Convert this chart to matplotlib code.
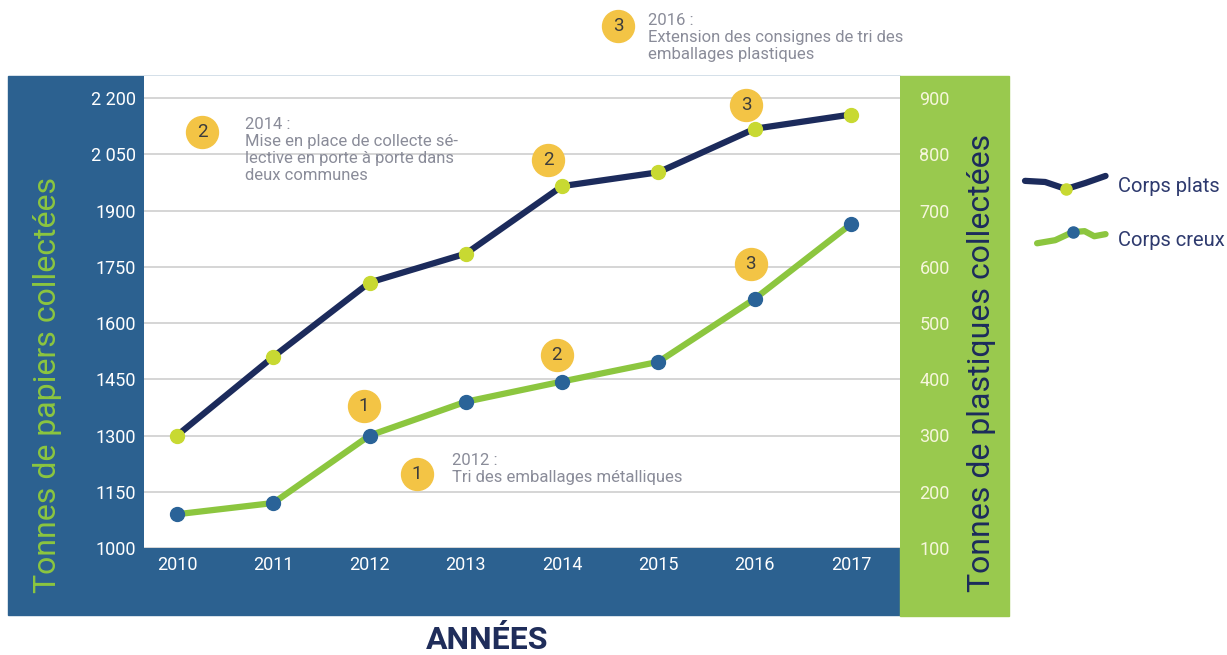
import numpy as np
import matplotlib
matplotlib.use('Agg')
import matplotlib.pyplot as plt
from matplotlib.patches import Rectangle
from matplotlib.lines import Line2D
from matplotlib.legend_handler import HandlerBase
from matplotlib.transforms import offset_copy

plt.rcParams['font.family'] = ['Roboto', 'DejaVu Sans']

# ── Data ─────────────────────────────────────────────────────────────────────
years = [2010, 2011, 2012, 2013, 2014, 2015, 2016, 2017]
corps_plats = [1300, 1510, 1708, 1785, 1965, 2002, 2118, 2156]   # left axis (papiers)
corps_creux = [160, 180, 300, 360, 396, 431, 543, 676]           # right axis (plastiques)

left_ticks = [1000, 1150, 1300, 1450, 1600, 1750, 1900, 2050, 2200]
left_labels = ['1000', '1150', '1300', '1450', '1600', '1750', '1900', '2 050', '2 200']
right_ticks = [100, 200, 300, 400, 500, 600, 700, 800, 900]

# event markers: (series, year index, number)
events = [('plats', 4, '2'), ('plats', 6, '3'),
          ('creux', 2, '1'), ('creux', 4, '2'), ('creux', 6, '3')]

notes = [('2', 202, 132, 245, 117, '2014 :\nMise en place de collecte sé-\nlective en porte à porte dans\ndeux communes'),
         ('3', 618, 26, 648, 13, '2016 :\nExtension des consignes de tri des\nemballages plastiques'),
         ('1', 417, 474, 452, 453, '2012 :\nTri des emballages métalliques')]

# ── Colours ──────────────────────────────────────────────────────────────────
BLUE_PANEL = '#2c6190'
GREEN_PANEL = '#99c94e'
NAVY = '#1c2b5c'
GREEN = '#8cc63f'
LIME = '#c8d932'
DOT_BLUE = '#2a6398'
GOLD = '#f3c445'
NOTE_GREY = '#8a8c99'

W, H = 1227, 655
fx = lambda px: px / W
fy = lambda py: 1 - py / H

fig = plt.figure(figsize=(W / 100, H / 100), dpi=100)

# background panels
fig.patches.append(Rectangle((fx(8), fy(615)), fx(900 - 8), (615 - 76) / H,
                             transform=fig.transFigure, color=BLUE_PANEL, zorder=-5))
fig.patches.append(Rectangle((fx(900), fy(616)), fx(1009 - 900), (616 - 76) / H,
                             transform=fig.transFigure, color=GREEN_PANEL, zorder=-5))

ax = fig.add_axes([fx(144), fy(548), (900 - 144) / W, (548 - 76) / H])
ax.set_facecolor('white')
ax.set_xlim(2010 - 33 / 96.3, 2017 + 49 / 96.3)
ax.set_ylim(1000, 2200 + 22 / 0.375)
ax.set_yticks(left_ticks)
ax.set_yticklabels(left_labels)
ax.set_xticks(years)
ax.tick_params(axis='y', length=0, pad=6, labelsize=13, labelcolor='white')
ax.tick_params(axis='x', length=0, pad=6, labelsize=13, labelcolor='white')
ax.yaxis.grid(True, color='#d2d2d2', lw=1.3)
ax.set_axisbelow(True)
for s in ax.spines.values():
    s.set_visible(False)

ax2 = ax.twinx()
ax2.set_ylim(100, 100 + 472 * 800 / 450)
ax2.set_yticks(right_ticks)
ax2.tick_params(axis='y', length=0, pad=14, labelsize=13, labelcolor='#f6f6dc')
for s in ax2.spines.values():
    s.set_visible(False)

l1, = ax.plot(years, corps_plats, color=NAVY, lw=4.5, marker='o', ms=10,
              mfc=LIME, mec=LIME, zorder=3, label='Corps plats')
l2, = ax2.plot(years, corps_creux, color=GREEN, lw=4.5, marker='o', ms=10,
               mfc=DOT_BLUE, mec=DOT_BLUE, zorder=3, label='Corps creux')

# numbered circles above points
offsets = {('plats', 4): (-10, 19), ('plats', 6): (-6, 17),
           ('creux', 2): (-4, 21), ('creux', 4): (-4, 19), ('creux', 6): (-3, 25)}
for series, i, num in events:
    a = ax if series == 'plats' else ax2
    vals = corps_plats if series == 'plats' else corps_creux
    dx, dy = offsets[(series, i)]
    tr = offset_copy(a.transData, fig=fig, x=dx, y=dy, units='points')
    a.plot([years[i]], [vals[i]], 'o', ms=23, color=GOLD, transform=tr, zorder=5, clip_on=False)
    a.text(years[i], vals[i], num, transform=tr, ha='center', va='center',
           fontsize=13.5, color='#3c3c3c', zorder=6)

# side notes
for num, cx, cy, tx, ty, txt in notes:
    fig.add_artist(Line2D([fx(cx)], [fy(cy)], marker='o', ms=23, color=GOLD,
                          transform=fig.transFigure, zorder=5))
    fig.text(fx(cx), fy(cy), num, ha='center', va='center', fontsize=13.5,
             color='#3c3c3c', zorder=6)
    fig.text(fx(tx), fy(ty), txt, ha='left', va='top', fontsize=12,
             color=NOTE_GREY, linespacing=1.17, zorder=6)

# axis titles
fig.text(fx(48), fy(385), 'Tonnes de papiers collectées', rotation=90, ha='center',
         va='center', fontsize=23, color=GREEN)
fig.text(fx(981), fy(363), 'Tonnes de plastiques collectées', rotation=90, ha='center',
         va='center', fontsize=23, color=NAVY)
fig.text(fx(487), fy(640), 'ANNÉES', ha='center', va='center', fontsize=23,
         fontweight='bold', color='#1f2d5a')


# legend with wavy handles
class WaveHandler(HandlerBase):
    def __init__(self, xs, ys, mx, my, mcolor):
        super().__init__()
        self.xs, self.ys, self.mx, self.my, self.mcolor = xs, ys, mx, my, mcolor

    def create_artists(self, legend, orig_handle, xdescent, ydescent, width, height, fontsize, trans):
        xs = np.array(self.xs) * width - xdescent
        ys = np.array(self.ys) * height - ydescent
        line = Line2D(xs, ys, color=orig_handle.get_color(), lw=4.5,
                      solid_capstyle='round', solid_joinstyle='round', transform=trans)
        mk = Line2D([self.mx * width - xdescent], [self.my * height - ydescent],
                    marker='o', ms=8, color=self.mcolor, transform=trans)
        return [line, mk]


hm = {l1: WaveHandler([0, .25, .51, .75, 1.0], [.79, .71, .21, .64, 1.14], .51, .21, LIME),
      l2: WaveHandler([.15, .375, .59, .74, .86, 1.0], [.21, .43, 1.0, 1.07, .71, .86], .59, 1.0, DOT_BLUE)}
fig.legend([l1, l2], ['Corps plats', 'Corps creux'], loc='upper left',
           bbox_to_anchor=(fx(1025), fy(177)), frameon=False, fontsize=14.5,
           labelcolor='#2e3a6e', handlelength=4, handletextpad=0.6,
           labelspacing=1.75, borderpad=0, borderaxespad=0, handler_map=hm)

fig.savefig('out.png', dpi=100)
